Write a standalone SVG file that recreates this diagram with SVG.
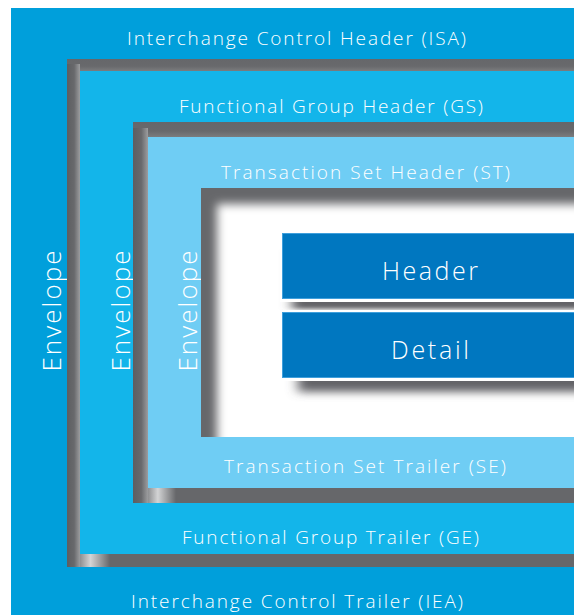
<svg xmlns="http://www.w3.org/2000/svg" width="574" height="615" viewBox="0 0 574 615">
  <style>
    .lbl { font-family: "Open Sans", "Lato", "Liberation Sans", sans-serif; font-weight: 300; fill: #ffffff; text-anchor: middle; }
    .sm { font-size: 19px; }
    .env { font-size: 26px; }
    .big { font-size: 25px; }
    .gray { fill: #66676a; }
    .box { fill: #0077c0; stroke: #3f9fdc; stroke-width: 1; }
    .boxrim { fill: #ffffff; }
  </style>
  <defs>
    <linearGradient id="lbar" x1="0" y1="0" x2="1" y2="0">
      <stop offset="0" stop-color="#5d5e61"/>
      <stop offset="0.55" stop-color="#68696c"/>
      <stop offset="1" stop-color="#9c9d9f"/>
    </linearGradient>
    <linearGradient id="bhl" x1="0" y1="0" x2="1" y2="0">
      <stop offset="0" stop-color="#8e8f91"/>
      <stop offset="0.35" stop-color="#d3d4d5"/>
      <stop offset="1" stop-color="#66676a"/>
    </linearGradient>
    <linearGradient id="tbar" x1="0" y1="0" x2="0" y2="1">
      <stop offset="0" stop-color="#66676a"/>
      <stop offset="0.6" stop-color="#68696c"/>
      <stop offset="1" stop-color="#7b7c7e"/>
    </linearGradient>
    <filter id="soft" x="-20%" y="-20%" width="140%" height="140%">
      <feGaussianBlur stdDeviation="5"/>
    </filter>
    <filter id="shd" x="-20%" y="-50%" width="140%" height="200%">
      <feGaussianBlur stdDeviation="6 2"/>
    </filter>
    <filter id="shd2" x="-20%" y="-50%" width="140%" height="200%">
      <feGaussianBlur stdDeviation="6 4"/>
    </filter>
    <clipPath id="bodyclip">
      <rect x="201" y="188" width="373" height="249"/>
    </clipPath>
  </defs>

  <g id="isa">
    <rect x="11" y="8" width="563" height="607" fill="#009fdb"/>
    <text class="lbl sm" x="296.5" y="45" textLength="339" lengthAdjust="spacing">Interchange Control Header (ISA)</text>
    <text class="lbl sm" x="297" y="608" textLength="332" lengthAdjust="spacing">Interchange Control Trailer (IEA)</text>
    <text class="lbl env" transform="translate(61,311) rotate(-90)" x="0" y="0" textLength="121" lengthAdjust="spacing">Envelope</text>
  </g>

  <g id="gs">
    <rect class="gray" x="67" y="59" width="507" height="508"/>
    <rect x="67" y="59" width="507" height="12" fill="url(#tbar)"/>
    <rect x="67" y="64" width="13" height="503" fill="url(#lbar)"/>
    <rect x="80" y="554" width="30" height="13" fill="url(#bhl)"/>
    <rect x="80" y="71" width="494" height="483" fill="#13b5ea"/>
    <text class="lbl sm" x="331" y="113" textLength="304" lengthAdjust="spacing">Functional Group Header (GS)</text>
    <text class="lbl sm" x="330.5" y="544" textLength="297" lengthAdjust="spacing">Functional Group Trailer (GE)</text>
    <text class="lbl env" transform="translate(129.5,311) rotate(-90)" x="0" y="0" textLength="121" lengthAdjust="spacing">Envelope</text>
  </g>

  <g id="st">
    <rect class="gray" x="133" y="122" width="441" height="381"/>
    <rect x="133" y="122" width="441" height="15" fill="url(#tbar)"/>
    <rect x="133" y="128" width="15" height="375" fill="url(#lbar)"/>
    <rect x="148" y="488" width="28" height="15" fill="url(#bhl)"/>
    <rect x="148" y="137" width="426" height="351" fill="#6fcdf4"/>
    <text class="lbl sm" x="365.5" y="179" textLength="289" lengthAdjust="spacing">Transaction Set Header (ST)</text>
    <text class="lbl sm" x="365" y="473" textLength="282" lengthAdjust="spacing">Transaction Set Trailer (SE)</text>
    <text class="lbl env" transform="translate(196.5,311) rotate(-90)" x="0" y="0" textLength="121" lengthAdjust="spacing">Envelope</text>
  </g>

  <g id="body">
    <rect class="gray" x="201" y="188" width="373" height="249"/>
    <g clip-path="url(#bodyclip)">
      <rect x="217" y="204" width="420" height="300" fill="#ffffff" filter="url(#soft)"/>
    </g>
  </g>

  <g id="header">
    <rect x="292" y="250" width="320" height="59" fill="#636467" filter="url(#shd)"/>
    <rect class="boxrim" x="280" y="231" width="300" height="71"/>
    <rect class="box" x="282.5" y="233.5" width="300" height="65"/>
    <text class="lbl big" x="430" y="280" textLength="96" lengthAdjust="spacing">Header</text>
  </g>

  <g id="detail">
    <rect x="298" y="330" width="320" height="62" fill="#636467" filter="url(#shd2)"/>
    <rect class="boxrim" x="280" y="310" width="300" height="71"/>
    <rect class="box" x="282.5" y="312.5" width="300" height="65"/>
    <text class="lbl big" x="430" y="359" textLength="78" lengthAdjust="spacing">Detail</text>
  </g>

  <g id="connectors"/>
</svg>
